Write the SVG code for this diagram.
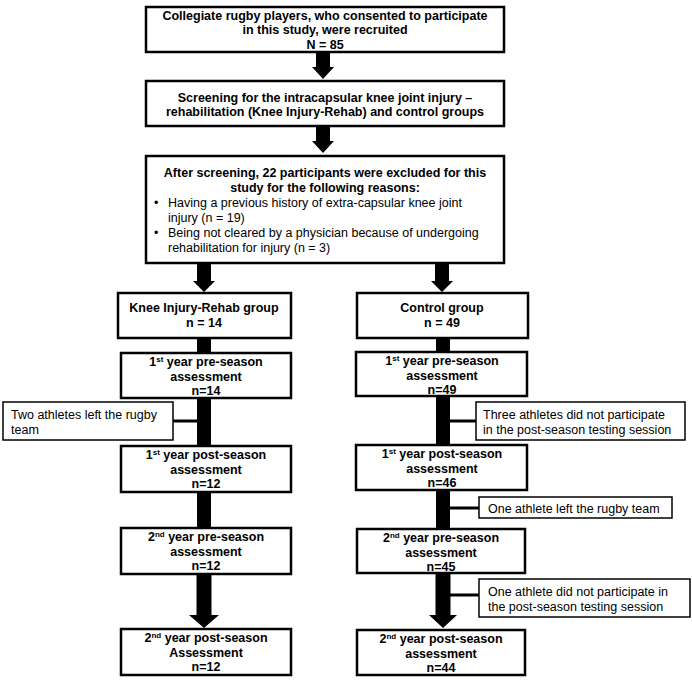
<svg xmlns="http://www.w3.org/2000/svg" width="692" height="682" viewBox="0 0 692 682">
<style>
.box{fill:#fff;stroke:#000;stroke-width:2.5}
.side{fill:#fff;stroke:#000;stroke-width:1.5}
text{font-family:"Liberation Sans",Arial,sans-serif;font-size:12.5px;fill:#000}
.b{font-weight:bold;text-anchor:middle}
.sup{font-size:8px}
.arr{fill:#000}
</style>
<rect width="692" height="682" fill="#fff"/>
<g id="connectors">
<polygon class="arr" points="316,52 330,52 330,67 334,67 323,79 312,67 316,67"/>
<polygon class="arr" points="316,126 330,126 330,141 334,141 323,153 312,141 316,141"/>
<polygon class="arr" points="197,263 211,263 211,281 215,281 204,292 193,281 197,281"/>
<polygon class="arr" points="435,263 449,263 449,281 453,281 442,292 431,281 435,281"/>
<rect class="arr" x="197" y="338" width="14" height="16"/>
<rect class="arr" x="197" y="397" width="14" height="50"/>
<rect class="arr" x="173" y="419.5" width="25" height="3"/>
<rect class="arr" x="197" y="491" width="14" height="38"/>
<polygon class="arr" points="196.5,573 211.5,573 211.5,615 219,615 204,628 189,615 196.5,615"/>
<rect class="arr" x="436" y="338" width="14" height="15"/>
<rect class="arr" x="436" y="395" width="14" height="51"/>
<rect class="arr" x="449" y="419.5" width="28" height="3"/>
<rect class="arr" x="436" y="489" width="14" height="41"/>
<rect class="arr" x="449" y="506.5" width="31" height="3"/>
<polygon class="arr" points="435.5,572 450.5,572 450.5,615 457,615 443,628 429,615 435.5,615"/>
<rect class="arr" x="449" y="593.5" width="31" height="3"/>
</g>
<g id="n1">
<rect class="box" x="146" y="7" width="358" height="45"/>
<text class="b" x="325" y="19.5">Collegiate rugby players, who consented to participate</text>
<text class="b" x="325" y="34">in this study, were recruited</text>
<text class="b" x="325" y="48.5">N = 85</text>
</g>
<g id="n2">
<rect class="box" x="146" y="81" width="358" height="45"/>
<text class="b" x="325" y="101.5">Screening for the intracapsular knee joint injury –</text>
<text class="b" x="325" y="116">rehabilitation (Knee Injury-Rehab) and control groups</text>
</g>
<g id="n3">
<rect class="box" x="146" y="156" width="358" height="107"/>
<text class="b" x="325" y="177">After screening, 22 participants were excluded for this</text>
<text class="b" x="325" y="192">study for the following reasons:</text>
<text x="154" y="207">•</text>
<text x="168" y="207">Having a previous history of extra-capsular knee joint</text>
<text x="168" y="222">injury (n = 19)</text>
<text x="154" y="237">•</text>
<text x="168" y="237">Being not cleared by a physician because of undergoing</text>
<text x="168" y="252">rehabilitation for injury (n = 3)</text>
</g>
<g id="kir">
<rect class="box" x="118" y="293" width="173" height="45"/>
<text class="b" x="204" y="312">Knee Injury-Rehab group</text>
<text class="b" x="204" y="327">n = 14</text>
</g>
<g id="ctl">
<rect class="box" x="357" y="293" width="171" height="45"/>
<text class="b" x="442" y="312">Control group</text>
<text class="b" x="442" y="327">n = 49</text>
</g>
<g id="l1">
<rect class="box" x="121" y="353" width="170" height="45"/>
<text class="b" x="206" y="366">1<tspan class="sup" dy="-4">st</tspan><tspan dy="4"> year pre-season</tspan></text>
<text class="b" x="206" y="380.5">assessment</text>
<text class="b" x="206" y="395">n=14</text>
</g>
<g id="ls1">
<rect class="side" x="3" y="402" width="170" height="38"/>
<text x="11" y="419">Two athletes left the rugby</text>
<text x="11" y="433.5">team</text>
</g>
<g id="l2">
<rect class="box" x="121" y="446" width="170" height="46"/>
<text class="b" x="206" y="459">1<tspan class="sup" dy="-4">st</tspan><tspan dy="4"> year post-season</tspan></text>
<text class="b" x="206" y="473.5">assessment</text>
<text class="b" x="206" y="488">n=12</text>
</g>
<g id="l3">
<rect class="box" x="121" y="528" width="170" height="46"/>
<text class="b" x="206" y="541">2<tspan class="sup" dy="-4">nd</tspan><tspan dy="4"> year pre-season</tspan></text>
<text class="b" x="206" y="555.5">assessment</text>
<text class="b" x="206" y="570">n=12</text>
</g>
<g id="l4">
<rect class="box" x="121" y="629" width="170" height="46"/>
<text class="b" x="206" y="642">2<tspan class="sup" dy="-4">nd</tspan><tspan dy="4"> year post-season</tspan></text>
<text class="b" x="206" y="656.5">Assessment</text>
<text class="b" x="206" y="671">n=12</text>
</g>
<g id="r1">
<rect class="box" x="356" y="352" width="171" height="44"/>
<text class="b" x="442" y="365">1<tspan class="sup" dy="-4">st</tspan><tspan dy="4"> year pre-season</tspan></text>
<text class="b" x="442" y="379.5">assessment</text>
<text class="b" x="442" y="394">n=49</text>
</g>
<g id="rs1">
<rect class="side" x="476" y="402" width="209" height="38"/>
<text x="483" y="419">Three athletes did not participate</text>
<text x="483" y="434">in the post-season testing session</text>
</g>
<g id="r2">
<rect class="box" x="356" y="445" width="171" height="45"/>
<text class="b" x="442" y="458">1<tspan class="sup" dy="-4">st</tspan><tspan dy="4"> year post-season</tspan></text>
<text class="b" x="442" y="472.5">assessment</text>
<text class="b" x="442" y="487">n=46</text>
</g>
<g id="rs2">
<rect class="side" x="479" y="497" width="193" height="21"/>
<text x="488" y="512.5">One athlete left the rugby team</text>
</g>
<g id="r3">
<rect class="box" x="357" y="529" width="168" height="44"/>
<text class="b" x="441" y="542">2<tspan class="sup" dy="-4">nd</tspan><tspan dy="4"> year pre-season</tspan></text>
<text class="b" x="441" y="556.5">assessment</text>
<text class="b" x="441" y="571">n=45</text>
</g>
<g id="rs3">
<rect class="side" x="479" y="579" width="211" height="38"/>
<text x="488" y="596">One athlete did not participate in</text>
<text x="488" y="610.5">the post-season testing session</text>
</g>
<g id="r4">
<rect class="box" x="357" y="630" width="168" height="45"/>
<text class="b" x="441" y="643">2<tspan class="sup" dy="-4">nd</tspan><tspan dy="4"> year post-season</tspan></text>
<text class="b" x="441" y="657.5">assessment</text>
<text class="b" x="441" y="672">n=44</text>
</g>
</svg>
